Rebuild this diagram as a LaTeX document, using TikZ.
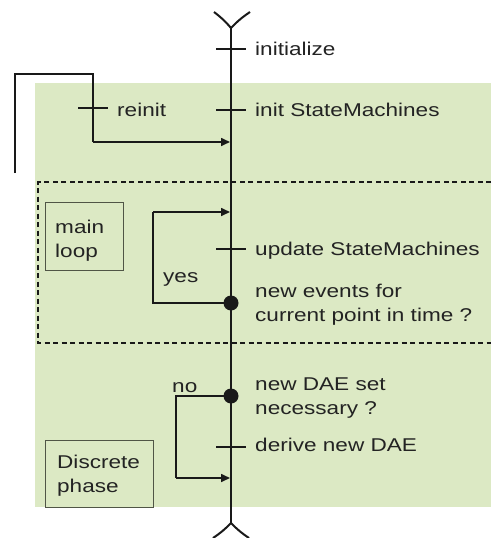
\documentclass[tikz,border=0pt]{standalone}
\usepackage{fontspec}
\setmainfont{Liberation Sans}[FakeStretch=1.22]
\usetikzlibrary{arrows.meta}
\definecolor{bggreen}{RGB}{220,233,196}
\definecolor{ink}{RGB}{25,25,25}
\definecolor{txt}{RGB}{35,35,35}
\definecolor{boxc}{RGB}{80,85,70}
\begin{document}
\begin{tikzpicture}[x=1pt,y=-1pt,
  font=\fontsize{18.5}{24}\selectfont,
  mainline/.style={draw=ink,line width=2pt},
  flow/.style={draw=ink,line width=1.6pt},
  arr/.style={flow,-{Triangle[length=9pt,width=8pt]}},
  tickmark/.style={draw=ink,line width=1.4pt},
  lbl/.style={anchor=base west,inner sep=0pt,text=txt,align=left},
  dot/.style={circle,fill=ink,inner sep=0pt,minimum size=15pt},
  framebox/.style={draw=boxc,line width=1.4pt,anchor=north west,inner sep=0pt}]
\useasboundingbox (0,0) rectangle (491,538);
% background
\fill[bggreen] (35,83) rectangle (491,507);
\draw[ink,line width=1.3pt,dash pattern=on 5pt off 3.5pt] (491,182) -- (38,182) -- (38,343) -- (491,343);
% main time line
\coordinate (top) at (231,28);
\coordinate (bot) at (231,523);
\draw[mainline] (top) -- (bot);
\coordinate (vl) at (214,12);
\coordinate (vr) at (250,12);
\draw[mainline] (vl) to[bend left=6] (top) to[bend left=6] (vr);
\coordinate (wl) at (213,538);
\coordinate (wr) at (249,538);
\draw[mainline] (wl) to[bend right=6] (bot) to[bend right=6] (wr);
% ticks on main line
\foreach \n/\yy in {s1/49,s2/110,s3/249,s4/447}{
  \coordinate (\n) at (231,\yy);
  \draw[tickmark] ([xshift=-15pt]\n) -- ([xshift=15pt]\n);
}
% labels
\node[lbl] (tinit) at (255,55) {initialize};
\node[lbl] (tsm) at (255,116) {init StateMachines};
\node[lbl] (tupd) at (255,255) {update StateMachines};
\node[lbl] (tev1) at (255,297) {new events for};
\node[lbl] (tev2) at (255,321) {current point in time ?};
\node[lbl] (tdae1) at (255,390) {new DAE set};
\node[lbl] (tdae2) at (255,414) {necessary ?};
\node[lbl] (tder) at (255,451) {derive new DAE};
% reinit path
\coordinate (r0) at (15,173);
\coordinate (r1) at (15,74);
\coordinate (r2) at (93,74);
\coordinate (r3) at (93,142);
\coordinate (r4) at (230,142);
\draw[flow] (r0) -- (r1) -- (r2) -- (r3);
\draw[arr] (r3) -- (r4);
\coordinate (rt) at (93,108);
\draw[tickmark] ([xshift=-15pt]rt) -- ([xshift=15pt]rt);
\node[lbl] (treinit) at (117,116) {reinit};
% main loop
\node[dot] (d1) at (231,303) {};
\coordinate (y1) at (153,303);
\coordinate (y2) at (153,212);
\coordinate (y3) at (230,212);
\draw[flow] (d1.center) -- (y1) -- (y2);
\draw[arr] (y2) -- (y3);
\node[lbl] (tyes) at (163,282) {yes};
\node[framebox,minimum width=78pt,minimum height=68pt] (mlbox) at (45,202) {};
\node[lbl] (tml1) at (55,233) {main};
\node[lbl] (tml2) at (55,257) {loop};
% discrete loop
\node[dot] (d2) at (231,396) {};
\coordinate (n1) at (176,396);
\coordinate (n2) at (176,478);
\coordinate (n3) at (230,478);
\draw[flow] (d2.center) -- (n1) -- (n2);
\draw[arr] (n2) -- (n3);
\node[lbl] (tno) at (172,392) {no};
\node[framebox,minimum width=108pt,minimum height=67pt] (dpbox) at (45,440) {};
\node[lbl] (tdp1) at (57,468) {Discrete};
\node[lbl] (tdp2) at (57,492) {phase};
\end{tikzpicture}
\end{document}
